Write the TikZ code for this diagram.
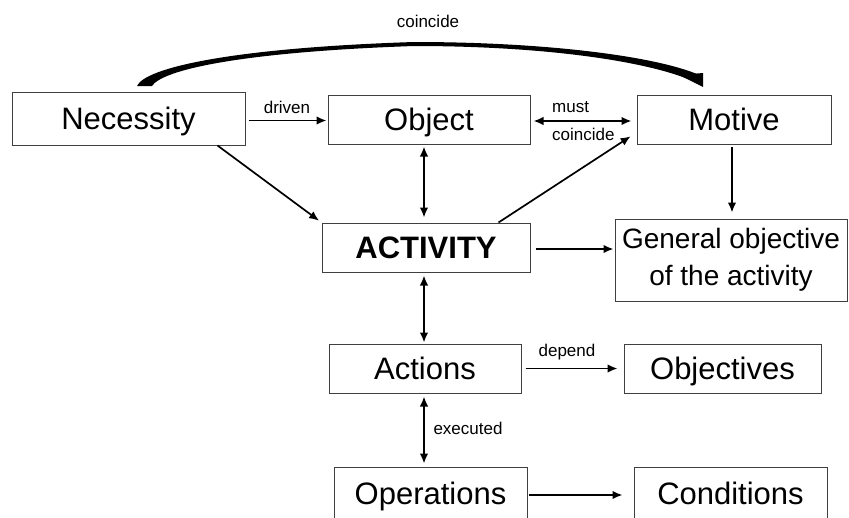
\documentclass[tikz,border=0pt]{standalone}
\usepackage{fontspec}
\setmainfont{Liberation Sans}
\usetikzlibrary{arrows.meta}

\begin{document}
\begin{tikzpicture}[x=1pt,y=-1pt,>={Latex[length=10pt,width=8.5pt]},
        box/.style={draw=black!75,line width=1pt,inner sep=0pt,font=\fontsize{31}{36}\selectfont,text height=22pt,text depth=0pt},
        lbl/.style={inner sep=0pt,font=\fontsize{17}{20}\selectfont},
        con/.style={line width=1.7pt}]
        \useasboundingbox (0,0) rectangle (849,517);
        \node[box,minimum width=233pt,minimum height=53pt] (nec) at (128.5,118.5) {Necessity};
        \node[box,minimum width=202pt,minimum height=49pt] (obj) at (429,119.5) {Object};
        \node[box,minimum width=194pt,minimum height=49pt] (mot) at (734,119.5) {Motive};
        \node[box,minimum width=208pt,minimum height=49pt,font=\fontsize{31}{36}\selectfont\bfseries] (act) at (426,247.5) {ACTIVITY};
        \node[draw=black!75,line width=1pt,inner sep=0pt,minimum width=232pt,minimum height=82pt,align=center,font=\fontsize{28}{37}\selectfont] (gen) at (731,260) {General objective\\of the activity};
        \node[box,minimum width=192pt,minimum height=49pt] (acts) at (425,368.5) {Actions};
        \node[box,minimum width=197pt,minimum height=49pt] (objs) at (722.5,368.5) {Objectives};
        \node[box,minimum width=193pt,minimum height=52pt] (ops) at (430.5,493) {Operations};
        \node[box,minimum width=193pt,minimum height=52pt] (cond) at (730.5,493) {Conditions};
        % curved arrow on top
        \fill (137,86) .. controls (145,68) and (230,48) .. (414,42) .. controls (540,42) and (650,55) .. (697,74)
            -- (688,79) .. controls (640,60) and (540,46) .. (414,46) .. controls (240,52) and (162,70) .. (152,86) -- cycle;
        \fill (679,75) -- (703,73) -- (703,87) -- cycle;
        \node[lbl] (tcoin) at (428,21) {coincide};
        % connectors
        \draw[con,->,shorten <=3pt,shorten >=1pt] ([yshift=-2pt]nec.east) -- ([yshift=-2pt]nec.east -| obj.west);
        \node[lbl] (drv) at (287,107) {driven};
        \draw[con,<->,shorten <=3pt,shorten >=5pt] ([yshift=-1.5pt]obj.east) -- ([yshift=-1.5pt]obj.east -| mot.west);
        \node[lbl,anchor=west] (must) at (552,107) {must};
        \node[lbl,anchor=west] (coin) at (552,134) {coincide};
        \draw[con,->,shorten >=3pt] ([xshift=-28pt]nec.south east) -- (act.north west);
        \draw[con,<->,shorten <=5pt,shorten >=2pt] ([xshift=-2pt]act.north) -- ([xshift=-2pt]act.north |- obj.south);
        \draw[con,->,shorten >=7pt] ([xshift=-32pt]act.north east) -- ([yshift=12pt]mot.south west);
        \draw[con,->,shorten <=2pt,shorten >=6pt] ([xshift=-2pt]mot.south) -- ([xshift=-2pt]mot.south |- gen.north);
        \draw[con,->,shorten <=5pt,shorten >=1pt] ([yshift=-1.5pt]act.east) -- ([yshift=-1.5pt]act.east -| gen.west);
        \draw[con,<->,shorten <=3pt,shorten >=1pt] ([xshift=-2pt]act.south) -- ([xshift=-2pt]act.south |- acts.north);
        \draw[con,->,shorten <=4pt,shorten >=6pt] (acts.east) -- (objs.west);
        \node[lbl] (dep) at (567,352) {depend};
        \draw[con,<->,shorten <=3pt,shorten >=3pt] ([xshift=-1pt]acts.south) -- ([xshift=-1pt]acts.south |- ops.north);
        \node[lbl] (exe) at (468,428) {executed};
        \draw[con,->,shorten <=1pt,shorten >=11pt] ([yshift=-2pt]ops.east) -- ([yshift=-2pt]ops.east -| cond.west);
    \end{tikzpicture}
\end{document}
